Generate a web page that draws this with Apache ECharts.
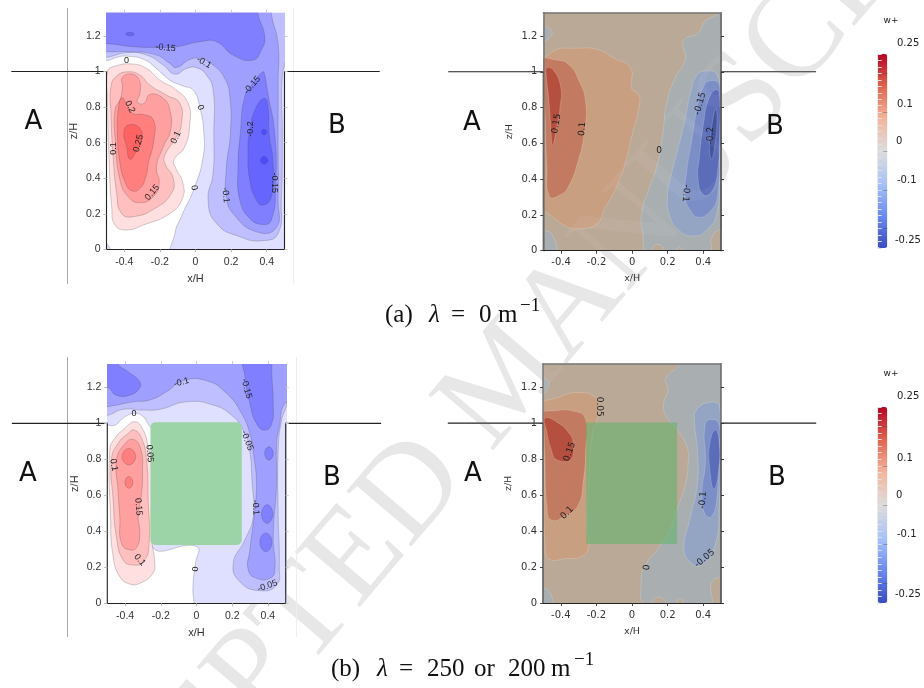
<!DOCTYPE html>
<html><head><meta charset="utf-8">
<style>html,body{margin:0;padding:0;background:#fff}#c{width:924px;height:688px;filter:blur(0.35px)}</style>
<script src="https://cdn.jsdelivr.net/npm/echarts@6/dist/echarts.min.js"></script>
</head><body><div id="c"></div>
<script>
// ---- tick labels ----
const xTicks = [-0.4,-0.2,0,0.2,0.4];
const zTicks = [0,0.2,0.4,0.6,0.8,1,1.2];
const colorbarTickLabels = ['0.25','0.1','0','-0.1','-0.25'];

// ---- contours, [x/H, z/H] ----
// (a) left panel
const aL_n0 = [[-.5,1.06],[-.44,1.08],[-.39,1.086],[-.29,1.067],[-.22,1.017],[-.144,.951],[-.07,.918],[-.013,.895],[.024,.8],[.047,.652],[.043,.52],[-.004,.352],[-.08,.184],[-.116,.09],[-.123,-.05],[.56,-.05],[.56,1.4],[-.56,1.4],[-.56,1.06]];
const aL_n0b = [[-.5,.03],[-.48,-.01],[-.52,-.01]];
const aL_n05 = [[-.5,1.079],[-.387,1.105],[-.275,1.092],[-.181,1.036],[-.116,.985],[-.05,1.017],[.006,1.021],[.062,.979],[.099,.895],[.103,.652],[.099,.427],[.071,.277],[.118,.146],[.249,.071],[.379,.049],[.464,.09],[.482,.277],[.488,.652],[.486,.951],[.51,1.08],[.56,1.4],[-.56,1.4],[-.56,1.08]];
const aL_n10 = [[-.5,1.11],[-.35,1.11],[-.219,1.092],[-.144,1.045],[-.107,1.022],[-.032,1.067],[.024,1.073],[.099,1.036],[.164,.961],[.193,.858],[.196,.652],[.174,.464],[.174,.296],[.211,.202],[.342,.099],[.454,.122],[.464,.277],[.464,.652],[.464,.933],[.464,1.157],[.426,1.326],[.43,1.4],[-.56,1.4],[-.56,1.11]];
const aL_n15top = [[-.5,1.157],[-.35,1.139],[-.219,1.135],[-.107,1.139],[.024,1.167],[.118,1.167],[.211,1.092],[.323,1.064],[.37,1.12],[.389,1.195],[.351,1.326],[.35,1.4],[-.56,1.4],[-.56,1.157]];
const aL_n15right = [[.379,.998],[.323,.933],[.277,.858],[.252,.652],[.239,.464],[.249,.277],[.305,.174],[.379,.14],[.426,.165],[.45,.352],[.445,.652],[.407,.876],[.389,.979]];
const aL_n20 = [[.389,.848],[.342,.801],[.305,.67],[.295,.558],[.305,.39],[.342,.277],[.379,.249],[.426,.296],[.436,.483],[.413,.652],[.407,.801]];
const aL_n20spot = [[-.392,1.21],[-.368,1.22],[-.344,1.21],[-.368,1.2]];
const aL_n25a = [[.385,.675],[.399,.659],[.385,.643],[.371,.659]];
const aL_n25b = [[.385,.522],[.407,.5],[.385,.478],[.365,.5]];
const aL_p05 = [[-.495,.998],[-.452,1.03],[-.35,1.041],[-.275,1.017],[-.2,.951],[-.107,.895],[-.041,.82],[-.032,.708],[-.06,.577],[-.121,.502],[-.11,.455],[-.073,.38],[-.073,.287],[-.144,.202],[-.293,.137],[-.387,.109],[-.452,.137],[-.471,.24],[-.484,.464],[-.495,.839]];
const aL_p10 = [[-.475,.914],[-.443,.974],[-.378,.998],[-.312,.979],[-.256,.923],[-.163,.867],[-.088,.82],[-.079,.708],[-.107,.633],[-.172,.53],[-.172,.483],[-.125,.399],[-.135,.315],[-.228,.23],[-.35,.184],[-.415,.202],[-.443,.315],[-.465,.558],[-.475,.764]];
const aL_p15 = [[-.411,.966],[-.359,.985],[-.316,.951],[-.312,.876],[-.327,.83],[-.29,.82],[-.256,.871],[-.181,.848],[-.144,.783],[-.14,.67],[-.181,.577],[-.219,.464],[-.204,.371],[-.237,.296],[-.312,.262],[-.378,.296],[-.424,.39],[-.449,.596],[-.452,.783],[-.421,.848],[-.411,.914]];
const aL_p20 = [[-.415,.852],[-.387,.816],[-.353,.764],[-.293,.758],[-.237,.727],[-.234,.614],[-.265,.483],[-.279,.408],[-.312,.343],[-.359,.33],[-.396,.38],[-.424,.483],[-.439,.652],[-.434,.783]];
const aL_p25 = [[-.372,.7],[-.312,.68],[-.303,.614],[-.335,.549],[-.368,.506],[-.387,.577],[-.402,.661]];
const aL_labels = [[-.168,1.133,'-0.15',-5],[-.387,1.064,'0',0],[.047,1.05,'-0.1',-30],[.318,.923,'-0.15',50],[-.368,.801,'0.2',-65],[.028,.798,'0',-70],[.308,.676,'-0.2',90],[-.11,.629,'0.1',65],[-.321,.596,'0.25',75],[-.462,.567,'0.1',90],[.445,.375,'-0.15',-90],[-.243,.32,'0.15',50],[-.007,.346,'0',-80],[.17,.305,'-0.1',-85]];

// (a) right panel
const aR_n0tl = [[-.52,1.27],[-.5,1.26],[-.45,1.22],[-.5,1.16],[-.52,1.15]];
const aR_n0bl = [[-.52,.12],[-.5,.116],[-.45,.09],[-.43,-.02],[-.52,-.02]];
const aR_n0 = [[.56,1.31],[.42,1.29],[.373,1.219],[.289,1.172],[.298,1.069],[.233,.948],[.191,.807],[.173,.658],[.139,.471],[.092,.34],[.054,.209],[.06,.097],[.092,-.01],[.43,-.01],[.448,.075],[.5,.12],[.56,.12]];
const aR_bump1 = [[.12,-.01],[.126,.03],[.167,.026],[.176,-.01]];
const aR_bump2 = [[.248,-.01],[.266,.019],[.285,-.01]];
const aR_n05 = [[.42,1.004],[.364,.979],[.326,.873],[.298,.733],[.261,.583],[.223,.434],[.199,.303],[.21,.2],[.261,.116],[.345,.082],[.42,.116],[.477,.209],[.492,.471],[.495,.845],[.477,.985]];
const aR_n10 = [[.448,.951],[.402,.92],[.364,.789],[.336,.621],[.308,.452],[.298,.303],[.326,.228],[.373,.187],[.439,.219],[.48,.303],[.492,.564],[.492,.92]];
const aR_n15 = [[.473,.901],[.43,.845],[.402,.714],[.379,.527],[.371,.396],[.402,.312],[.448,.331],[.48,.434],[.492,.658],[.492,.864]];
const aR_n20 = [[.469,.794],[.443,.658],[.435,.564],[.448,.512],[.467,.602],[.478,.751]];
const aR_p05 = [[-.5,1.079],[-.424,1.125],[-.33,1.131],[-.199,1.125],[-.096,1.073],[-.008,1.022],[-.002,.905],[.036,.873],[.039,.807],[-.002,.639],[-.039,.49],[-.096,.34],[-.152,.237],[-.199,.15],[-.293,.123],[-.368,.135],[-.452,.191],[-.5,.219],[-.56,.22],[-.56,1.08]];
const aR_p10 = [[-.52,1.06],[-.424,1.065],[-.358,1.041],[-.302,.957],[-.261,.826],[-.27,.658],[-.302,.508],[-.358,.359],[-.405,.312],[-.465,.303],[-.48,.471],[-.495,.845]];
const aR_p15 = [[-.48,1.022],[-.443,1.009],[-.402,.916],[-.405,.807],[-.424,.695],[-.448,.589],[-.458,.695],[-.469,.845],[-.484,.985]];
const aR_labels = [[-.426,.71,'0.15',80],[-.28,.68,'0.1',85],[.152,.559,'0',0],[.383,.822,'-0.15',75],[.443,.643,'-0.2',90],[.302,.321,'-0.1',-95]];

// (b) left panel
const bL_n0 = [[-.5,.991],[-.458,.989],[-.421,1.022],[-.383,1.046],[-.346,1.056],[-.299,1.037],[-.271,.996],[-.252,.963],[-.252,.324],[0,.315],[-.006,.222],[-.019,.111],[-.015,.019],[0,-.02],[.56,-.05],[.56,1.4],[-.56,1.4],[-.56,.991]];
const bL_n05 = [[-.5,1.044],[-.411,1.078],[-.299,1.074],[-.206,1.078],[-.056,1.12],[.093,1.102],[.196,1.046],[.262,.963],[.295,.87],[.312,.667],[.318,.481],[.271,.352],[.206,.222],[.243,.12],[.355,.07],[.449,.102],[.464,.204],[.458,.481],[.458,.852],[.477,1.019],[.505,1.102],[.56,1.4],[-.56,1.4],[-.56,1.044]];
const bL_n10 = [[-.5,1.093],[-.355,1.12],[-.262,1.13],[-.168,1.176],[-.075,1.237],[.056,1.237],[.168,1.167],[.252,1.056],[.299,.944],[.322,.815],[.336,.667],[.327,.519],[.299,.296],[.29,.185],[.336,.139],[.411,.139],[.439,.185],[.43,.37],[.449,.667],[.449,.889],[.464,.981],[.495,1.111],[.56,1.12],[.56,1.4],[-.56,1.4],[-.56,1.093]];
const bL_n15a = [[-.439,1.33],[-.383,1.287],[-.318,1.231],[-.321,1.194],[-.374,1.157],[-.449,1.157],[-.5,1.2],[-.56,1.18],[-.56,1.4],[-.44,1.4]];
const bL_n15b = [[.27,1.4],[.277,1.231],[.299,1.111],[.336,1],[.383,.963],[.421,.996],[.43,1.111],[.421,1.296],[.42,1.4]];
const bL_n15c = [[.406,.87],[.43,.833],[.406,.796],[.382,.833]];
const bL_n15d = [[.396,.548],[.428,.496],[.396,.444],[.364,.496]];
const bL_n15e = [[.389,.391],[.423,.339],[.389,.287],[.355,.339]];
const bL_p05 = [[-.346,1.009],[-.299,.963],[-.271,.87],[-.252,.778],[-.252,.37],[-.234,.222],[-.247,.163],[-.318,.111],[-.374,.107],[-.43,.148],[-.467,.259],[-.482,.481],[-.486,.852],[-.458,.917],[-.402,.972]];
const bL_p10 = [[-.35,.963],[-.308,.917],[-.28,.796],[-.271,.574],[-.267,.315],[-.299,.231],[-.355,.213],[-.411,.241],[-.449,.37],[-.467,.574],[-.477,.796],[-.439,.889],[-.383,.944]];
const bL_p15 = [[-.355,.911],[-.312,.856],[-.303,.722],[-.308,.611],[-.327,.481],[-.318,.398],[-.333,.315],[-.37,.296],[-.42,.333],[-.43,.481],[-.44,.63],[-.448,.796],[-.407,.88]];
const bL_p20a = [[-.379,.861],[-.341,.815],[-.379,.769],[-.417,.815]];
const bL_p20b = [[-.379,.705],[-.357,.672],[-.379,.639],[-.401,.672]];
const bL_block = [[-.258,.324],[.254,1.006]];
const bL_labels = [[-.351,1.056,'0',0],[-.084,1.228,'-0.1',15],[.28,1.194,'-0.15',-75],[.284,.904,'-0.05',-70],[-.262,.833,'0.05',-85],[-.464,.769,'0.1',-80],[-.325,.537,'0.15',-85],[-.318,.241,'0.1',-50],[.331,.533,'-0.1',-85],[-.013,.191,'0',-90],[.398,.096,'-0.05',20]];

// (b) right panel
const bR_n0tl = [[-.52,1.27],[-.5,1.257],[-.466,1.22],[-.5,1.156],[-.52,1.14]];
const bR_n0bl = [[-.52,.09],[-.5,.087],[-.463,.063],[-.448,-.02],[-.52,-.02]];
const bR_n0 = [[.27,1.4],[.268,1.33],[.189,1.248],[.202,1.183],[.178,1.109],[.193,1.035],[.249,.97],[.309,.869],[.315,.776],[.301,.665],[.258,.535],[.221,.424],[.155,.313],[.081,.22],[.052,.128],[.084,-.01],[.433,-.01],[.446,.109],[.498,.146],[.56,.15],[.56,1.4]];
const bR_bump1 = [[.118,-.01],[.127,.026],[.174,.026],[.184,-.01]];
const bR_bump2 = [[.247,-.01],[.27,.026],[.292,-.01]];
const bR_p05 = [[-.52,1.085],[-.406,1.146],[-.294,1.17],[-.21,1.146],[-.185,1.091],[-.2,1.007],[-.223,.943],[-.243,.665],[-.253,.424],[-.243,.313],[-.285,.257],[-.369,.248],[-.463,.243],[-.489,.313],[-.496,.85]];
const bR_p10 = [[-.52,1.05],[-.434,1.069],[-.331,1.067],[-.262,1.026],[-.26,.85],[-.275,.665],[-.303,.544],[-.369,.489],[-.453,.461],[-.478,.535],[-.491,.85],[-.5,.998]];
const bR_p15 = [[-.489,1.026],[-.434,1.013],[-.35,.939],[-.331,.878],[-.345,.798],[-.425,.798],[-.453,.85],[-.481,.961]];
const bR_n05 = [[.436,1.115],[.361,1.072],[.352,1.007],[.367,.85],[.367,.665],[.324,.461],[.292,.313],[.324,.23],[.39,.211],[.464,.313],[.489,.517],[.492,1.091]];
const bR_n10 = [[.455,1.02],[.412,.994],[.412,.776],[.393,.609],[.408,.498],[.446,.48],[.478,.591],[.489,.85],[.489,.989]];
const bR_n15 = [[.466,.961],[.436,.878],[.436,.757],[.459,.635],[.485,.72],[.489,.906]];
const bR_block = [[-.257,.328],[.253,1.004]];
const bR_labels = [[-.184,1.091,'0.05',-90],[-.35,.841,'0.15',70],[-.365,.502,'0.1',45],[.084,.198,'0',85],[.408,.248,'-0.05',40],[.399,.572,'-0.1',85]];

// building outline
const wallLeft = [[-1.035,1],[-.5,1],[-.5,0]];
const wallRight = [[.5,0],[.5,1],[1.035,1]];

// ---- styles ----
const bwrFill = {n0:'#dfdfff',n05:'#bfbfff',n10:'#9f9fff',n15:'#7f7fff',n20:'#6666ff',n25:'#4c4cff',p05:'#ffdfdf',p10:'#ffbfbf',p15:'#ff9f9f',p20:'#ff7f7f',p25:'#ff6262'};
const warmFill = {bg:'#bba997',n0:'#a9aeb1',n05:'#94a5c4',n10:'#7b8ec6',n15:'#5b6cb8',n20:'#44559f',p05:'#c99f82',p10:'#c27b60',p15:'#b5503f'};
const coolwarm = ['#3b4cc0','#6a8bef','#a9c3f7','#dddcdc','#f3b59b','#e0654f','#b40426'];

const panels = [
  {grid:{left:106.5,width:178,top:12.7,height:236.7}, fill:bwrFill, font:'Liberation Sans', warm:false, labels:aL_labels, block:null,
   polys:[['n0',aL_n0],['n0',aL_n0b],['n05',aL_n05],['n10',aL_n10],['n15',aL_n15top],['n15',aL_n15right],['n20',aL_n20],['n20',aL_n20spot],['n25',aL_n25a],['n25',aL_n25b],['p05',aL_p05],['p10',aL_p10],['p15',aL_p15],['p20',aL_p20],['p25',aL_p25]]},
  {grid:{left:543.3,width:177.7,top:12.7,height:238}, fill:warmFill, font:'DejaVu Sans', warm:true, labels:aR_labels, block:null,
   polys:[['n0',aR_n0tl],['n0',aR_n0bl],['n0',aR_n0],['bg',aR_bump1],['bg',aR_bump2],['n05',aR_n05],['n10',aR_n10],['n15',aR_n15],['n20',aR_n20],['p05',aR_p05],['p10',aR_p10],['p15',aR_p15]]},
  {grid:{left:107.3,width:178.4,top:364,height:239.3}, fill:bwrFill, font:'Liberation Sans', warm:false, labels:bL_labels, block:bL_block,
   polys:[['n0',bL_n0],['n05',bL_n05],['n10',bL_n10],['n15',bL_n15a],['n15',bL_n15b],['n15',bL_n15c],['n15',bL_n15d],['n15',bL_n15e],['p05',bL_p05],['p10',bL_p10],['p15',bL_p15],['p20',bL_p20a],['p20',bL_p20b]]},
  {grid:{left:543,width:178,top:363.7,height:239.4}, fill:warmFill, font:'DejaVu Sans', warm:true, labels:bR_labels, block:bR_block,
   polys:[['n0',bR_n0tl],['n0',bR_n0bl],['n0',bR_n0],['bg',bR_bump1],['bg',bR_bump2],['n05',bR_n05],['n10',bR_n10],['n15',bR_n15],['p05',bR_p05],['p10',bR_p10],['p15',bR_p15]]}
];

const grids=[], xAxes=[], yAxes=[], series=[];
const fmt = v => String(+(+v).toFixed(2));
panels.forEach((p,i)=>{
  grids.push(Object.assign({show:true,backgroundColor:p.warm?warmFill.bg:'#fff',borderWidth:0},p.grid));
  const tickCol = p.warm?'#444':'#bbb', labCol = '#333', fs = p.warm?10:10.5;
  const gi=i, ax=xAxes.length, ay=yAxes.length;
  xAxes.push({gridIndex:gi,type:'value',min:-.5,max:.5,position:'bottom',z:10,name:'x/H',nameLocation:'middle',nameGap:p.warm?23:24,
    nameTextStyle:{fontFamily:p.font,fontSize:p.warm?9.5:11,color:labCol},
    axisLine:{show:true,onZero:false,lineStyle:{color:'#222',width:1.2}},
    axisTick:{show:true,length:3,customValues:xTicks,lineStyle:{color:p.warm?'#444':'#bbb'}},
    axisLabel:{show:true,customValues:xTicks,formatter:fmt,fontFamily:p.font,fontSize:fs,color:labCol,margin:7,hideOverlap:false},splitLine:{show:false}});
  xAxes.push({gridIndex:gi,type:'value',min:-.5,max:.5,position:'top',z:10,
    axisLine:{show:p.warm,onZero:false,lineStyle:{color:'#777',width:1.5}},
    axisTick:{show:!p.warm,length:3,customValues:xTicks,lineStyle:{color:'#ccc'}},axisLabel:{show:false},splitLine:{show:false}});
  yAxes.push({gridIndex:gi,type:'value',min:0,max:1.33,position:'left',z:10,name:'z/H',nameLocation:'middle',nameGap:p.warm?29:27,
    nameTextStyle:{fontFamily:p.font,fontSize:p.warm?9.5:11,color:labCol},
    axisLine:{show:p.warm,onZero:false,lineStyle:{color:'#777',width:1.5}},
    axisTick:{show:true,length:3,customValues:zTicks,lineStyle:{color:tickCol}},
    axisLabel:{show:true,customValues:zTicks,formatter:fmt,fontFamily:p.font,fontSize:fs,color:labCol,margin:6,hideOverlap:false},splitLine:{show:false}});
  yAxes.push({gridIndex:gi,type:'value',min:0,max:1.33,position:'right',z:10,
    axisLine:{show:p.warm,onZero:false,lineStyle:{color:'#666',width:1.5}},
    axisTick:{show:true,length:3,customValues:zTicks,lineStyle:{color:p.warm?'#333':'#ccc'}},axisLabel:{show:false},splitLine:{show:false}});
  const contourStroke = p.warm?'rgba(255,255,255,.3)':'rgba(70,70,70,.42)';
  series.push({type:'custom',name:'contours '+i,xAxisIndex:ax,yAxisIndex:ay,coordinateSystem:'cartesian2d',clip:true,silent:true,z:2,
    data:p.polys.map((_,k)=>[k]),
    renderItem:(params,api)=>{
      const q=p.polys[params.dataIndex];
      return {type:'polygon',shape:{points:q[1].map(pt=>api.coord(pt)),smooth:.5},
        style:{fill:p.fill[q[0]],stroke:contourStroke,lineWidth:.6}};
    }});
  if(p.block){
    series.push({type:'custom',name:'block '+i,xAxisIndex:ax,yAxisIndex:ay,clip:true,silent:true,z:3,data:[[0]],
      renderItem:(params,api)=>{
        const a=api.coord(p.block[0]),b=api.coord(p.block[1]);
        return {type:'rect',shape:{x:a[0],y:b[1],width:b[0]-a[0],height:a[1]-b[1],r:p.warm?0:5},
          style:{fill:p.warm?'rgba(100,180,110,.6)':'#9dd4a7'}};
      }});
  }
  series.push({type:'custom',name:'labels '+i,xAxisIndex:ax,yAxisIndex:ay,clip:false,silent:true,z:4,
    data:p.labels.map((_,k)=>[k]),
    renderItem:(params,api)=>{
      const l=p.labels[params.dataIndex],c=api.coord([l[0],l[1]]);
      return {type:'text',x:c[0],y:c[1],rotation:l[3]*Math.PI/180,
        style:{text:l[2],align:'center',verticalAlign:'middle',fontFamily:p.font,fontSize:9,fill:'#222'}};
    }});
  series.push({type:'custom',name:'walls '+i,xAxisIndex:ax,yAxisIndex:ay,clip:false,silent:true,z:6,
    data:[[0],[1]],
    renderItem:(params,api)=>{
      const w=params.dataIndex===0?wallLeft:wallRight;
      return {type:'polyline',shape:{points:w.map(pt=>api.coord(pt))},style:{fill:'none',stroke:'#222',lineWidth:1.1}};
    }});
});

// colour bars
const bars=[{left:877.7,top:54,height:194},{left:877.7,top:407,height:196}];
const barTicks=[3,9,15,21,27];
const visualMaps=[];
bars.forEach((b,i)=>{
  const gi=grids.length,ax=xAxes.length,ay=yAxes.length;
  grids.push({left:b.left,top:b.top,width:9.6,height:b.height,show:false});
  xAxes.push({gridIndex:gi,type:'value',show:false,min:0,max:1});
  yAxes.push({gridIndex:gi,type:'value',min:0,max:30,interval:1,position:'right',z:10,
    axisLine:{show:true,lineStyle:{color:'#e8e8e8',width:1}},axisTick:{show:true,length:4,lineStyle:{color:'#e0e0e0'}},axisLabel:{show:false},splitLine:{show:false}});
  yAxes.push({gridIndex:gi,type:'value',min:0,max:30,position:'right',z:11,show:true,
    axisLine:{show:false},axisTick:{show:true,inside:true,length:4,customValues:barTicks,lineStyle:{color:'rgba(60,60,60,.35)'}},axisLabel:{show:false},splitLine:{show:false}});
  series.push({type:'scatter',name:'bar '+i,xAxisIndex:ax,yAxisIndex:ay,data:[],silent:true});
  visualMaps.push({type:'continuous',min:-.25,max:.25,left:b.left,top:b.top,itemWidth:9.6,itemHeight:b.height,padding:0,calculable:false,realtime:false,hoverLink:false,
    seriesIndex:series.length-1,inRange:{color:coolwarm},text:null,show:true,borderWidth:0,z:4});
});

// ---- page furniture ----
const txt=(x,y,t,o={})=>({type:'text',x,y,z:20,silent:true,style:Object.assign({text:t,fontFamily:'DejaVu Sans',fontSize:10,fill:'#222',align:'left',verticalAlign:'middle'},o)});
const vline=(x,y1,y2,c)=>({type:'line',z:1,silent:true,shape:{x1:x,y1,x2:x,y2},style:{stroke:c,lineWidth:1}});
const abFont={fontSize:26,fill:'#111',align:'center'};
const cap={fontFamily:'Liberation Serif',fontSize:25,fill:'#111'};
const capItalic=Object.assign({},cap,{fontStyle:'italic'});
const sup={fontFamily:'Liberation Serif',fontSize:19,fill:'#111'};
const barLabelY=[[43,104,141.5,180,240],[396.7,458,495,534.5,594]];
const barLabelX=[897,897,896,897,895];
const watermarkText='ACCEPTED MANUSCRIPT';
const wm=(z,fill)=>({type:'text',x:508,y:380,z,rotation:49.6*Math.PI/180,silent:true,style:{text:watermarkText,fontFamily:'Liberation Serif',fontSize:130,fill,align:'center',verticalAlign:'middle'}});
const graphic=[
  wm(-5,'#e6e6e6'),wm(8,'rgba(255,255,255,.05)'),
  vline(67.5,8,284,'#aaa'),vline(293.5,8,284,'#eee'),vline(67.5,357,637,'#aaa'),vline(296.5,357,637,'#eee'),
  txt(33.5,122,'A',abFont),txt(337,126,'B',abFont),txt(472,123,'A',abFont),txt(775,127,'B',abFont),
  txt(28,474,'A',abFont),txt(332,478,'B',abFont),txt(473,474,'A',abFont),txt(777,478,'B',abFont),
  txt(891,21,'w+',{align:'center',fontSize:9}),txt(891,374,'w+',{align:'center',fontSize:9}),
  txt(385,315,'(a)',cap),txt(429,315,'λ',capItalic),txt(451,315,'=',cap),txt(479,315,'0',cap),txt(498,315,'m',cap),txt(520,306,'−1',sup),
  txt(331,669,'(b)',cap),txt(377,669,'λ',capItalic),txt(399,669,'=',cap),txt(427,669,'250',cap),txt(474,669,'or',cap),txt(508,669,'200',cap),txt(551,669,'m',cap),txt(574,660,'−1',sup)
];
barLabelY.forEach(ys=>ys.forEach((y,k)=>graphic.push(txt(barLabelX[k],y,colorbarTickLabels[k],{}))));

const chart=echarts.init(document.getElementById('c'));
chart.setOption({animation:false,backgroundColor:'#fff',grid:grids,xAxis:xAxes,yAxis:yAxes,visualMap:visualMaps,series,graphic:{elements:graphic},tooltip:{show:false}});
</script></body></html>
